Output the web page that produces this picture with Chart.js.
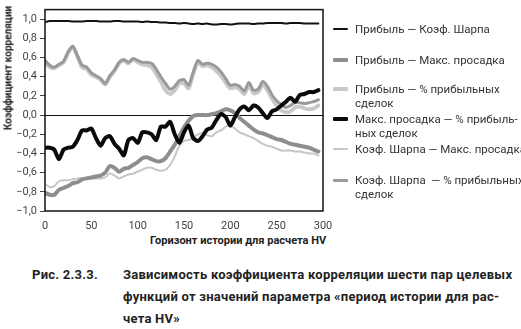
<!DOCTYPE html>
<html lang="ru">
<head>
<meta charset="utf-8">
<script src="https://cdn.jsdelivr.net/npm/chart.js"></script>
<style>
  html, body { margin: 0; padding: 0; background: #fff; }
  body { width: 521px; height: 329px; position: relative; overflow: hidden; font-family: Roboto, "DejaVu Sans", sans-serif; color: #222; }
  #chart { position: absolute; left: 0; top: 0; }
  .ytitle { position: absolute; left: 8px; top: 68px; transform: translate(-50%, -50%) rotate(-90deg); white-space: nowrap; font-size: 10px; font-weight: bold; color: #222; }
  .xtitle { position: absolute; left: 238px; top: 240px; transform: translate(-50%, -50%); white-space: nowrap; font-size: 11px; font-weight: bold; color: #222; }
  .legend { position: absolute; left: 0; top: 0; font-size: 11.5px; color: #333; }
  .legend .item { position: absolute; left: 355px; white-space: nowrap; line-height: 14px; }
  .legend .swatch { position: absolute; left: 333px; width: 15px; border-radius: 1px; }
  .caption { position: absolute; top: 264px; font-size: 13px; font-weight: bold; color: #222; line-height: 22px; white-space: nowrap; letter-spacing: 0.25px; }
</style>
</head>
<body>
<canvas id="chart" width="345" height="230"></canvas>
<div class="ytitle">Коэффициент корреляции</div>
<div class="xtitle">Горизонт истории для расчета HV</div>
<div class="legend" id="legend"></div>
<div class="caption" style="left:32px">Рис. 2.3.3.</div>
<div class="caption" style="left:123px">Зависимость коэффициента корреляции шести пар целевых<br>функций от значений параметра «период истории для рас-<br>чета HV»</div>
<script>
// горизонт истории HV
const horizon = [0, 5, 10, 15, 20, 25, 30, 35, 40, 45, 50, 55, 60, 65, 70, 75, 80, 85, 90, 95,
  100, 105, 110, 115, 120, 125, 130, 135, 140, 145, 150, 155, 160, 165, 170, 175, 180, 185, 190, 195,
  200, 205, 210, 215, 220, 225, 230, 235, 240, 245, 250, 255, 260, 265, 270, 275, 280, 285, 290, 295];

const profitSharpe = [0.97, 0.98, 0.98, 0.98, 0.98, 0.98, 0.975, 0.975, 0.975, 0.98, 0.98, 0.98, 0.975, 0.975, 0.975, 0.98, 0.98, 0.975, 0.975, 0.975,
  0.975, 0.97, 0.975, 0.97, 0.97, 0.965, 0.965, 0.96, 0.96, 0.955, 0.96, 0.955, 0.95, 0.955, 0.95, 0.955, 0.945, 0.945, 0.95, 0.95,
  0.945, 0.95, 0.955, 0.955, 0.955, 0.95, 0.955, 0.955, 0.96, 0.96, 0.96, 0.96, 0.955, 0.96, 0.96, 0.96, 0.955, 0.955, 0.955, 0.955];

const profitDrawdown = [-0.81, -0.83, -0.83, -0.78, -0.76, -0.74, -0.71, -0.70, -0.67, -0.66, -0.65, -0.64, -0.63, -0.60, -0.53, -0.55, -0.59, -0.56, -0.55, -0.52,
  -0.49, -0.45, -0.44, -0.46, -0.48, -0.48, -0.45, -0.38, -0.31, -0.22, -0.13, -0.06, -0.01, 0.00, 0.00, 0.00, 0.01, 0.02, 0.04, 0.06,
  0.05, 0.02, -0.03, -0.07, -0.11, -0.15, -0.18, -0.19, -0.21, -0.23, -0.25, -0.26, -0.28, -0.30, -0.31, -0.32, -0.33, -0.34, -0.36, -0.38];

const profitWinRate = [0.55, 0.50, 0.49, 0.52, 0.55, 0.65, 0.71, 0.61, 0.50, 0.48, 0.42, 0.40, 0.37, 0.32, 0.40, 0.46, 0.54, 0.57, 0.54, 0.58,
  0.55, 0.53, 0.52, 0.50, 0.43, 0.35, 0.26, 0.22, 0.26, 0.33, 0.33, 0.28, 0.43, 0.55, 0.51, 0.52, 0.50, 0.46, 0.41, 0.34,
  0.28, 0.29, 0.27, 0.22, 0.31, 0.23, 0.24, 0.32, 0.26, 0.17, 0.10, 0.05, 0.03, 0.04, 0.08, 0.09, 0.07, 0.06, 0.07, 0.10];

const drawdownWinRate = [-0.34, -0.34, -0.36, -0.46, -0.36, -0.34, -0.33, -0.26, -0.16, -0.16, -0.14, -0.24, -0.32, -0.24, -0.22, -0.30, -0.35, -0.42, -0.26, -0.24,
  -0.29, -0.18, -0.18, -0.20, -0.26, -0.12, -0.12, -0.07, -0.20, -0.29, -0.18, -0.11, -0.24, -0.27, -0.22, -0.15, -0.13, -0.05, 0.01, -0.02,
  -0.11, -0.02, 0.06, 0.09, 0.05, 0.10, 0.08, 0.02, -0.03, 0.04, 0.06, 0.10, 0.14, 0.18, 0.14, 0.21, 0.22, 0.24, 0.24, 0.26];

const sharpeDrawdown = [-0.72, -0.75, -0.74, -0.69, -0.68, -0.68, -0.67, -0.66, -0.66, -0.65, -0.66, -0.66, -0.66, -0.65, -0.61, -0.63, -0.66, -0.64, -0.62, -0.61,
  -0.59, -0.57, -0.55, -0.55, -0.57, -0.58, -0.57, -0.52, -0.43, -0.32, -0.27, -0.26, -0.24, -0.20, -0.19, -0.21, -0.22, -0.18, -0.16, -0.12,
  -0.11, -0.14, -0.18, -0.20, -0.22, -0.24, -0.27, -0.30, -0.32, -0.33, -0.35, -0.37, -0.37, -0.37, -0.38, -0.38, -0.39, -0.40, -0.40, -0.42];

const sharpeWinRate = [0.57, 0.52, 0.50, 0.53, 0.56, 0.66, 0.72, 0.62, 0.52, 0.50, 0.44, 0.41, 0.38, 0.33, 0.41, 0.47, 0.55, 0.58, 0.55, 0.59,
  0.57, 0.55, 0.55, 0.54, 0.48, 0.40, 0.33, 0.27, 0.30, 0.36, 0.37, 0.31, 0.45, 0.57, 0.53, 0.54, 0.53, 0.50, 0.45, 0.38,
  0.31, 0.32, 0.30, 0.25, 0.34, 0.26, 0.27, 0.35, 0.30, 0.21, 0.15, 0.11, 0.08, 0.10, 0.13, 0.13, 0.12, 0.13, 0.14, 0.16];

const yTicks = [-1.0, -0.8, -0.6, -0.4, -0.2, 0.0, 0.2, 0.4, 0.6, 0.8, 1.0];
const xTicks = [0, 50, 100, 150, 200, 250, 300];

// подписи легенды (с переносами как в книге)
const seriesNames = [
  "Прибыль — Коэф. Шарпа",
  "Прибыль — Макс. просадка",
  "Прибыль — % прибыльных<br>сделок",
  "Макс. просадка — % прибыль-<br>ных сделок",
  "Коэф. Шарпа — Макс. просадка",
  "Коэф. Шарпа &nbsp;— % прибыльных<br>сделок"
];
const seriesData = [profitSharpe, profitDrawdown, profitWinRate, drawdownWinRate, sharpeDrawdown, sharpeWinRate];
const seriesColors = ["#111", "#8e8e8e", "#c9c9c9", "#0a0a0a", "#c6c6c6", "#9a9a9a"];
const seriesWidths = [2, 4, 4, 4, 2, 3];
const drawOrder = [2, 4, 6, 1, 5, 3];
const legendY = [29, 60, 89, 119, 149, 180];

function toPoints(values) {
  return horizon.map((h, i) => ({ x: h, y: values[i] }));
}

function fmt(v) {
  return v.toFixed(1).replace(".", ",").replace("-", "\u2212");
}

// рамка вокруг области графика
const frame = {
  id: "frame",
  afterDraw(chart) {
    const { ctx, chartArea: a } = chart;
    ctx.save();
    ctx.strokeStyle = "#111";
    ctx.lineWidth = 1.5;
    ctx.strokeRect(a.left, a.top, a.right - a.left, a.bottom - a.top);
    ctx.restore();
  }
};

new Chart(document.getElementById("chart"), {
  type: "line",
  data: {
    datasets: seriesData.map((vals, i) => ({
      label: seriesNames[i],
      data: toPoints(vals),
      borderColor: seriesColors[i],
      borderWidth: seriesWidths[i],
      pointRadius: 0,
      tension: 0.25,
      borderJoinStyle: "round",
      borderCapStyle: "round",
      order: drawOrder[i]
    }))
  },
  options: {
    responsive: false,
    animation: false,
    layout: { padding: { top: 1, right: 22, left: 0, bottom: 0 } },
    plugins: { legend: { display: false }, tooltip: { enabled: false } },
    scales: {
      x: {
        type: "linear",
        min: 0,
        max: 300,
        afterBuildTicks: s => { s.ticks = xTicks.map(v => ({ value: v })); },
        afterFit: s => { s.height = 19; },
        grid: { display: false },
        border: { display: false },
        ticks: { color: "#444", font: { family: "Roboto", size: 11 }, padding: 1, maxRotation: 0 }
      },
      y: {
        min: -1,
        max: 1.1,
        afterBuildTicks: s => { s.ticks = yTicks.map(v => ({ value: v })); },
        afterFit: s => { s.width = 45; },
        grid: {
          color: c => (c.tick && Math.abs(c.tick.value) < 1e-9 ? "#111" : "rgba(0,0,0,0)"),
          lineWidth: 1,
          tickColor: "#444",
          tickLength: 5,
          drawTicks: true
        },
        border: { display: false },
        ticks: { color: "#444", font: { family: "Roboto", size: 11 }, padding: 3, callback: v => fmt(v) }
      }
    }
  },
  plugins: [frame]
});

// легенда справа
const legend = document.getElementById("legend");
seriesNames.forEach((name, i) => {
  const sw = document.createElement("div");
  sw.className = "swatch";
  sw.style.top = (legendY[i] - seriesWidths[i] / 2) + "px";
  sw.style.height = seriesWidths[i] + "px";
  sw.style.background = seriesColors[i];
  legend.appendChild(sw);
  const it = document.createElement("div");
  it.className = "item";
  it.style.top = (legendY[i] - 7) + "px";
  it.innerHTML = name;
  legend.appendChild(it);
});
</script>
</body>
</html>
